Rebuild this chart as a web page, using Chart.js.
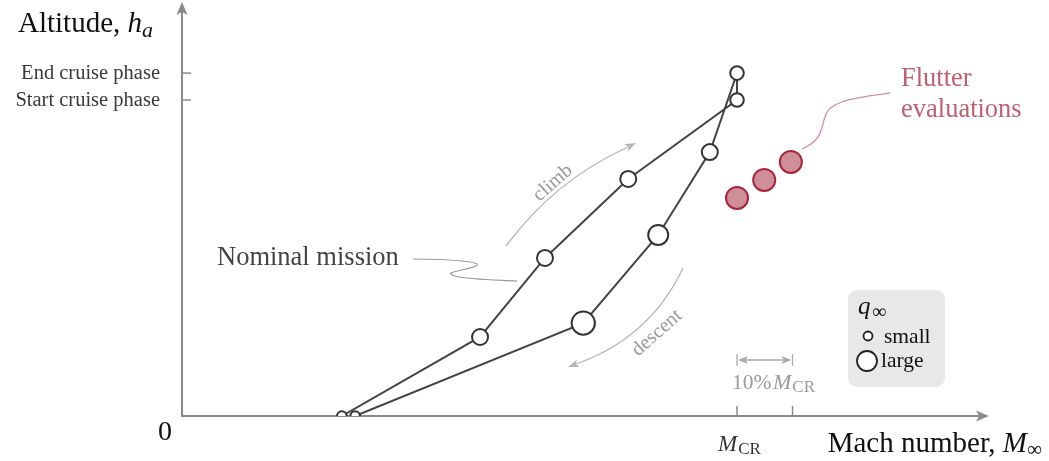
<!DOCTYPE html>
<html>
<head>
<meta charset="utf-8">
<script src="https://cdn.jsdelivr.net/npm/chart.js@4/dist/chart.umd.min.js"></script>
<style>
  html, body { margin: 0; padding: 0; background: #fff; }
  #c { display: block; }
</style>
</head>
<body>
<canvas id="c" width="1049" height="461"></canvas>
<script>
// mission path, Mach normalised by M_CR, altitude normalised by start of cruise
const missionMach = [0.288, 0.537, 0.654, 0.804, 1.0, 1.0, 0.951, 0.858, 0.723, 0.312];
const missionAlt  = [0.0,   0.25,  0.50,  0.75,  1.0, 1.085, 0.835, 0.573, 0.294, 0.0];
// relative dynamic pressure at each mission point
const missionQ    = [0.1,   0.5,   0.5,   0.5,   0.35, 0.35, 0.5,  0.75,  0.95,  0.1];

const flutterMach = [1.0, 1.049, 1.097];
const flutterAlt  = [0.69, 0.747, 0.804];

const yTickValues = [1.085, 1.0];
const yTickLabels = ['End cruise phase', 'Start cruise phase'];
const xTickValues = [1.0, 1.1];

const SERIF = '"Liberation Serif", "DejaVu Serif", serif';

function qToRadius(q) { return 4 + 8 * q; }

// petite fonction pour les pointes de flèche
function arrowHead(ctx, x, y, angle, len, wid, color) {
    ctx.save();
    ctx.translate(x, y);
    ctx.rotate(angle);
    ctx.fillStyle = color;
    ctx.beginPath();
    ctx.moveTo(0, 0);
    ctx.lineTo(-len, -wid / 2);
    ctx.lineTo(-len * 0.75, 0);
    ctx.lineTo(-len, wid / 2);
    ctx.closePath();
    ctx.fill();
    ctx.restore();
}

const axesPlugin = {
    id: 'axes',
    beforeDatasetsDraw(chart) {
        const ctx = chart.ctx;
        const xs = chart.scales.x, ys = chart.scales.y;
        const x0 = xs.getPixelForValue(0), y0 = ys.getPixelForValue(0);
        const xEnd = xs.right, yEnd = ys.top;
        ctx.save();
        ctx.strokeStyle = '#8a8a8a';
        ctx.lineWidth = 2;
        ctx.beginPath();
        ctx.moveTo(x0, yEnd + 8);
        ctx.lineTo(x0, y0);
        ctx.lineTo(xEnd - 8, y0);
        ctx.stroke();
        arrowHead(ctx, xEnd, y0, 0, 13, 11, '#8a8a8a');
        arrowHead(ctx, x0, yEnd, -Math.PI / 2, 13, 11, '#8a8a8a');

        // tick marks
        ctx.lineWidth = 1.5;
        yTickValues.forEach(v => {
            const py = ys.getPixelForValue(v);
            ctx.beginPath(); ctx.moveTo(x0, py); ctx.lineTo(x0 + 9, py); ctx.stroke();
        });
        xTickValues.forEach(v => {
            const px = xs.getPixelForValue(v);
            ctx.beginPath(); ctx.moveTo(px, y0); ctx.lineTo(px, y0 - 10); ctx.stroke();
        });
        ctx.restore();
    },
    afterDraw(chart) {
        const ctx = chart.ctx;
        const xs = chart.scales.x, ys = chart.scales.y;
        const x0 = xs.getPixelForValue(0), y0 = ys.getPixelForValue(0);
        ctx.save();
        ctx.textBaseline = 'alphabetic';

        // axis titles
        ctx.fillStyle = '#111';
        ctx.font = `29px ${SERIF}`;
        ctx.textAlign = 'left';
        ctx.fillText('Altitude, ', 18, 32);
        let w = ctx.measureText('Altitude, ').width;
        ctx.font = `italic 29px ${SERIF}`;
        ctx.fillText('h', 18 + w, 32);
        w += ctx.measureText('h').width;
        ctx.font = `italic 22px ${SERIF}`;
        ctx.fillText('a', 18 + w, 37);

        const machTxt = 'Mach number, ';
        ctx.font = `italic 29px ${SERIF}`;
        const mW = ctx.measureText('M').width;
        ctx.font = `21px ${SERIF}`;
        const infW = ctx.measureText('\u221E').width;
        ctx.font = `29px ${SERIF}`;
        const tW = ctx.measureText(machTxt).width;
        let sx = 1042 - infW - mW - tW;
        ctx.fillText(machTxt, sx, 452);
        ctx.font = `italic 29px ${SERIF}`;
        ctx.fillText('M', sx + tW, 452);
        ctx.font = `21px ${SERIF}`;
        ctx.fillText('\u221E', sx + tW + mW, 456);

        ctx.font = `28px ${SERIF}`;
        ctx.textAlign = 'center';
        ctx.fillText('0', x0 - 17, y0 + 24);

        // y tick labels
        ctx.fillStyle = '#3a3a3a';
        ctx.font = `20.5px ${SERIF}`;
        ctx.textAlign = 'right';
        ctx.textBaseline = 'middle';
        yTickValues.forEach((v, i) => {
            ctx.fillText(yTickLabels[i], x0 - 22, ys.getPixelForValue(v) + 1);
        });

        // M_CR tick label
        ctx.textBaseline = 'alphabetic';
        function mcr(left, by, size, color) {
            ctx.fillStyle = color;
            ctx.textAlign = 'left';
            ctx.font = `italic ${size}px ${SERIF}`;
            const a = ctx.measureText('M').width;
            ctx.fillText('M', left, by);
            ctx.font = `${Math.round(size * 0.75)}px ${SERIF}`;
            ctx.fillText('CR', left + a + 1, by + 3);
        }
        mcr(718, 451, 23, '#333');

        // 10% M_CR dimension
        const pA = xs.getPixelForValue(1.0), pB = xs.getPixelForValue(1.1);
        ctx.strokeStyle = '#aaa';
        ctx.lineWidth = 1.3;
        ctx.beginPath();
        ctx.moveTo(pA, 354); ctx.lineTo(pA, 366);
        ctx.moveTo(pB, 354); ctx.lineTo(pB, 366);
        ctx.moveTo(pA + 6, 360); ctx.lineTo(pB - 6, 360);
        ctx.stroke();
        arrowHead(ctx, pA + 1, 360, Math.PI, 10, 8, '#aaa');
        arrowHead(ctx, pB - 1, 360, 0, 10, 8, '#aaa');
        ctx.fillStyle = '#999';
        ctx.font = `21.5px ${SERIF}`;
        ctx.textAlign = 'left';
        ctx.fillText('10%', 732, 389);
        mcr(773, 389, 22, '#999');

        // Nominal mission label + squiggle
        ctx.fillStyle = '#444';
        ctx.font = `26.5px ${SERIF}`;
        ctx.textAlign = 'left';
        ctx.textBaseline = 'middle';
        ctx.fillText('Nominal mission', 217, 258);
        ctx.strokeStyle = '#999';
        ctx.lineWidth = 1.2;
        ctx.beginPath();
        ctx.moveTo(413, 259);
        ctx.bezierCurveTo(450, 259, 485, 262, 476, 266);
        ctx.bezierCurveTo(468, 270, 440, 272, 455, 276);
        ctx.bezierCurveTo(470, 280, 500, 280, 517, 281);
        ctx.stroke();

        // climb arrow
        ctx.strokeStyle = '#b5b5b5';
        ctx.lineWidth = 1.3;
        ctx.beginPath();
        ctx.moveTo(506, 246);
        ctx.quadraticCurveTo(555, 180, 628, 147);
        ctx.stroke();
        arrowHead(ctx, 636, 143, Math.atan2(-4, 8), 11, 8, '#b5b5b5');
        ctx.save();
        ctx.translate(553, 183);
        ctx.rotate(-0.72);
        ctx.fillStyle = '#999';
        ctx.font = `20px ${SERIF}`;
        ctx.textAlign = 'center';
        ctx.fillText('climb', 0, 0);
        ctx.restore();

        // descent arrow
        ctx.beginPath();
        ctx.moveTo(683, 268);
        ctx.quadraticCurveTo(650, 338, 576, 364);
        ctx.stroke();
        arrowHead(ctx, 568, 367, Math.atan2(3, -8), 11, 8, '#b5b5b5');
        ctx.save();
        ctx.translate(657, 333);
        ctx.rotate(-0.72);
        ctx.fillStyle = '#999';
        ctx.font = `20px ${SERIF}`;
        ctx.textAlign = 'center';
        ctx.fillText('descent', 0, 0);
        ctx.restore();

        // Flutter evaluations
        ctx.fillStyle = '#c05f6f';
        ctx.font = `26.5px ${SERIF}`;
        ctx.textAlign = 'left';
        ctx.textBaseline = 'alphabetic';
        ctx.fillText('Flutter', 901, 86);
        ctx.fillText('evaluations', 901, 117);
        ctx.strokeStyle = '#d48f9a';
        ctx.lineWidth = 1.3;
        ctx.beginPath();
        ctx.moveTo(802, 149);
        ctx.bezierCurveTo(826, 138, 820, 125, 827, 112);
        ctx.bezierCurveTo(835, 100, 860, 97, 890, 93);
        ctx.stroke();

        // legend box
        ctx.fillStyle = '#e8e8e8';
        ctx.beginPath();
        ctx.roundRect(848, 290, 97, 97, 9);
        ctx.fill();
        ctx.fillStyle = '#111';
        ctx.font = `italic 25px ${SERIF}`;
        ctx.fillText('q', 858, 314);
        ctx.font = `20px ${SERIF}`;
        ctx.fillText('\u221E', 872, 318);
        ctx.strokeStyle = '#222';
        ctx.fillStyle = '#fff';
        ctx.lineWidth = 1.8;
        ctx.beginPath(); ctx.arc(868, 336, 4.5, 0, Math.PI * 2); ctx.fill(); ctx.stroke();
        ctx.beginPath(); ctx.arc(867, 361, 10, 0, Math.PI * 2); ctx.fill(); ctx.stroke();
        ctx.fillStyle = '#111';
        ctx.font = `21.5px ${SERIF}`;
        ctx.fillText('small', 884, 343);
        ctx.fillText('large', 881, 367);

        ctx.restore();
    }
};

const missionPoints = missionMach.map((m, i) => ({ x: m, y: missionAlt[i] }));
const flutterPoints = flutterMach.map((m, i) => ({ x: m, y: flutterAlt[i] }));

new Chart(document.getElementById('c').getContext('2d'), {
    type: 'scatter',
    data: {
        datasets: [{
            label: 'Nominal mission',
            data: missionPoints,
            showLine: true,
            borderColor: '#444',
            borderWidth: 2,
            pointBackgroundColor: '#fff',
            pointBorderColor: '#333',
            pointBorderWidth: 2,
            pointRadius: missionQ.map(qToRadius),
            tension: 0
        }, {
            label: 'Flutter evaluations',
            data: flutterPoints,
            showLine: false,
            pointBackgroundColor: '#cf8f99',
            pointBorderColor: '#a8233b',
            pointBorderWidth: 2,
            pointRadius: 11
        }]
    },
    options: {
        responsive: false,
        animation: false,
        layout: { autoPadding: false, padding: { left: 182, right: 60, top: 2, bottom: 45 } },
        plugins: { legend: { display: false }, tooltip: { enabled: false } },
        scales: {
            x: { type: 'linear', display: false, min: 0, max: 1.454 },
            y: { type: 'linear', display: false, min: 0, max: 1.31 }
        }
    },
    plugins: [axesPlugin]
});
</script>
</body>
</html>
